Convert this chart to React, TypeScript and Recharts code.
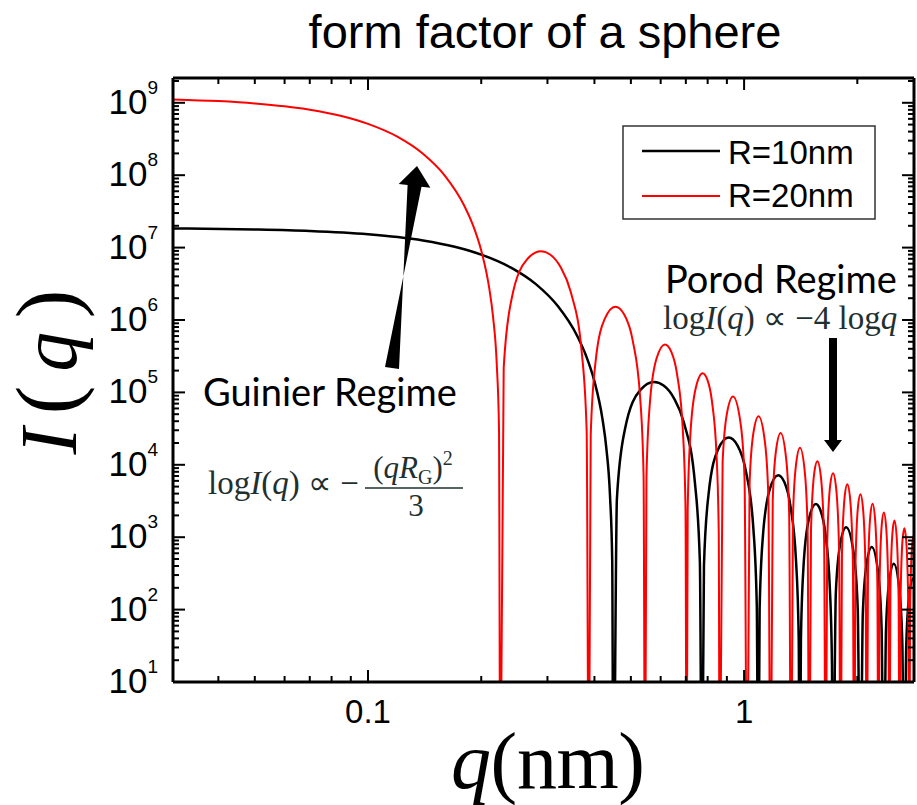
import React from "react"
import { LineChart, Line, XAxis, YAxis } from "recharts"

// sphere form factor (q in nm^-1, I in a.u.)
const blackQ = [
  0.03, 0.05, 0.07, 0.1, 0.12, 0.14, 0.17, 0.2, 0.24, 0.28, 0.32, 0.36, 0.38, 0.4, 0.42, 0.43, 0.44, 0.446, 0.4493,
  0.459, 0.4817, 0.5301, 0.5763, 0.6109, 0.65, 0.6917, 0.7402, 0.7628, 0.7725,
  0.7821, 0.8043, 0.852, 0.9095, 0.96, 1.0109, 1.0586, 1.0809, 1.0904,
  1.0999, 1.122, 1.1695, 1.2323, 1.2801, 1.3276, 1.375, 1.3971, 1.4066,
  1.4161, 1.4382, 1.4855, 1.5515, 1.5959, 1.6432, 1.6905, 1.7126, 1.7221,
  1.7536, 1.8008, 1.8689, 1.9584, 2.0056, 2.0371,
  2.0686, 2.1158, 2.1854, 2.2733, 2.3205, 2.352,
  2.3834, 2.4306, 2.5013, 2.588, 2.6351, 2.6666,
  2.6981, 2.7453, 2.8168, 2.9025, 2.9497, 2.9812,
]
const blackI = [
  1.841e7, 1.783e7, 1.699e7, 1.531e7, 1.397e7, 1.252e7, 1.025e7, 8.0e6, 5.28e6, 3.1e6, 1.545e6, 6.02e5, 3.21e5, 1.422e5, 4.34e4, 1.74e4, 3.73e3, 478, 0.1,
  3.4e3, 3.02e4, 1.084e5, 1.393e5, 1.243e5, 8.41e4, 3.82e4, 5.58e3, 458, 0.1,
  403, 3.88e3, 1.615e4, 2.378e4, 1.856e4, 8.19e3, 1.303e3, 111, 0.1,
  103, 1.025e3, 4.55e3, 7.17e3, 5.72e3, 2.73e3, 453, 39.4, 0.1,
  37.3, 379, 1.74e3, 2.88e3, 2.36e3, 1.162e3, 198, 17.4, 0.1,
  170, 802, 1.371e3, 574, 99.6, 0.1,
  87.9, 421, 735, 316, 55.5, 0.1,
  49.9, 242, 431, 188, 33.4, 0.1,
  30.4, 148.5, 268, 119, 21.3, 0.1,
]

const redQ = [
  0.03, 0.04, 0.05, 0.06, 0.07, 0.085, 0.1, 0.12, 0.14, 0.16, 0.18, 0.19, 0.2, 0.21, 0.215, 0.22, 0.223, 0.2247,
  0.2295, 0.2408, 0.2651, 0.2882, 0.3055, 0.325, 0.3459, 0.3701, 0.3814, 0.3863,
  0.391, 0.4022, 0.426, 0.4548, 0.48, 0.5055, 0.5293, 0.5404, 0.5452,
  0.55, 0.561, 0.5847, 0.6162, 0.6401, 0.6638, 0.6875, 0.6986, 0.7033,
  0.708, 0.7191, 0.7428, 0.7758, 0.798, 0.8216, 0.8453, 0.8563, 0.861,
  0.8768, 0.9004, 0.9345, 0.9792, 1.0028, 1.0186,
  1.0343, 1.0579, 1.0927, 1.1366, 1.1602, 1.176,
  1.1917, 1.2153, 1.2507, 1.294, 1.3176, 1.3333,
  1.349, 1.3726, 1.4084, 1.4513, 1.4749, 1.4906,
  1.5063, 1.5378, 1.566, 1.6007, 1.6321, 1.6478,
  1.6636, 1.695, 1.7235, 1.7579, 1.7893, 1.805,
  1.8208, 1.8522, 1.881, 1.9151, 1.9465, 1.9622,
  1.978, 2.0094, 2.0384, 2.0723, 2.1037, 2.1194,
  2.1351, 2.1666, 2.1957, 2.2294, 2.2609, 2.2766,
  2.2923, 2.3237, 2.353, 2.3866, 2.418, 2.4337,
  2.4494, 2.4809, 2.5103, 2.5437, 2.5752, 2.5909,
  2.6066, 2.638, 2.6676, 2.7009, 2.7323, 2.748,
  2.7637, 2.7951, 2.8248, 2.858, 2.8894, 2.9051,
]
const redI = [
  1.116e9, 1.055e9, 9.8e8, 8.94e8, 8.01e8, 6.56e8, 5.12e8, 3.38e8, 1.98e8, 9.89e7, 3.85e7, 2.06e7, 9.1e6, 2.77e6, 1.11e6, 2.39e5, 3.06e4, 0.1,
  2.17e5, 1.934e6, 6.94e6, 8.92e6, 7.96e6, 5.38e6, 2.446e6, 3.57e5, 2.93e4, 0.1,
  2.58e4, 2.48e5, 1.034e6, 1.522e6, 1.188e6, 5.24e5, 8.34e4, 7.1e3, 0.1,
  6.59e3, 6.56e4, 2.91e5, 4.59e5, 3.66e5, 1.748e5, 2.9e4, 2.52e3, 0.1,
  2.39e3, 2.42e4, 1.114e5, 1.841e5, 1.512e5, 7.43e4, 1.267e4, 1.12e3, 0.1,
  1.091e4, 5.13e4, 8.77e4, 3.67e4, 6.37e3, 0.1,
  5.63e3, 2.69e4, 4.7e4, 2.02e4, 3.55e3, 0.1,
  3.19e3, 1.547e4, 2.76e4, 1.204e4, 2.14e3, 0.1,
  1.94e3, 9.5e3, 1.716e4, 7.61e3, 1.362e3, 0.1,
  1.262e3, 7.97e3, 1.122e4, 6.78e3, 916, 0.1,
  841, 5.35e3, 7.64e3, 4.62e3, 629, 0.1,
  586, 3.75e3, 5.39e3, 3.28e3, 449, 0.1,
  421, 2.71e3, 3.91e3, 2.4e3, 329, 0.1,
  310, 2.01e3, 2.9e3, 1.788e3, 247, 0.1,
  234, 1.515e3, 2.2e3, 1.362e3, 189, 0.1,
  179, 1.167e3, 1.7e3, 1.056e3, 147, 0.1,
  140, 912, 1.333e3, 830, 116, 0.1,
  110, 723, 1.06e3, 662, 92, 0.1,
]

const seriesNames = ["R=10nm", "R=20nm"]
const seriesColors = ["#000000", "#ff0000"]

const xMajor = [0.1, 1]
const xMinor = [0.04, 0.05, 0.06, 0.07, 0.08, 0.09, 0.2, 0.3, 0.4, 0.5, 0.6, 0.7, 0.8, 0.9, 2]
const yDecades = [1, 2, 3, 4, 5, 6, 7, 8, 9]
const yMinorSteps = [2, 3, 4, 5, 6, 7, 8, 9]

const xDomain = [0.0303, 2.83]
const yDomain = [10, 2.2e9]

const zip = (qs: number[], is: number[]) => qs.map((q, i) => ({ q, I: is[i] }))
const blackData = zip(blackQ, blackI)
const redData = zip(redQ, redI)

const xTicks = [...xMinor, ...xMajor].sort((a, b) => a - b)
const yTicks = yDecades.flatMap((d) =>
  d < 9 ? [10 ** d, ...yMinorSteps.map((m) => m * 10 ** d)] : [10 ** d, 2 * 10 ** d]
)

const isDecade = (v: number) => Math.abs(Math.log10(v) - Math.round(Math.log10(v))) < 1e-6

const sans = "Liberation Sans, Arial, sans-serif"
const serif = "Liberation Serif, Times New Roman, serif"
const calib = "Lato, Open Sans, sans-serif"
const mathColor = "#1f3030"

function BottomTick(props: any) {
  const { x, y, payload } = props
  const v = payload.value
  const major = xMajor.includes(v)
  return (
    <g>
      <line x1={x} x2={x} y1={y} y2={y - (major ? 12 : 6)} stroke="#000" strokeWidth={2} />
      {major && (
        <text x={x} y={y + 41} textAnchor="middle" fontFamily={sans} fontSize={33} fill="#000">
          {String(v)}
        </text>
      )}
    </g>
  )
}

function TopTick(props: any) {
  const { x, y, payload } = props
  const major = xMajor.includes(payload.value)
  return <line x1={x} x2={x} y1={y} y2={y + (major ? 12 : 6)} stroke="#000" strokeWidth={2} />
}

function LeftTick(props: any) {
  const { x, y, payload } = props
  const v = payload.value
  const major = isDecade(v)
  const exp = Math.round(Math.log10(v))
  return (
    <g>
      <line x1={x} x2={x + (major ? 12 : 6)} y1={y} y2={y} stroke="#000" strokeWidth={2} />
      {major && (
        <text x={x - 15} y={y + 11} textAnchor="end" fontFamily={sans} fontSize={35} fill="#000">
          10
          <tspan dy={-20} fontSize={19}>
            {exp}
          </tspan>
        </text>
      )}
    </g>
  )
}

function RightTick(props: any) {
  const { x, y, payload } = props
  const major = isDecade(payload.value)
  return <line x1={x} x2={x - (major ? 12 : 6)} y1={y} y2={y} stroke="#000" strokeWidth={2} />
}

function Overlay() {
  return (
    <svg width={917} height={805} style={{ position: "absolute", left: 0, top: 0, pointerEvents: "none" }}>
      <text x={545} y={48} textAnchor="middle" fontFamily={sans} fontSize={47} fill="#000">
        form factor of a sphere
      </text>

      {/* axis titles */}
      <text
        x={548}
        y={788}
        textAnchor="middle"
        fontFamily={serif}
        fontSize={80}
        textLength={194}
        lengthAdjust="spacing"
        fill="#000"
      >
        <tspan fontStyle="italic">q</tspan>(nm)
      </text>
      <text
        transform="translate(76,372) rotate(-90)"
        textAnchor="middle"
        fontFamily={serif}
        fontSize={80}
        textLength={165}
        lengthAdjust="spacing"
        fill="#000"
      >
        <tspan fontStyle="italic">I</tspan>
        <tspan fontSize={86}>(</tspan>
        <tspan fontStyle="italic">q</tspan>
        <tspan fontSize={86}>)</tspan>
      </text>

      {/* legend */}
      <rect x={623} y={126} width={252} height={93} fill="#fff" stroke="#333" strokeWidth={1.5} />
      <line x1={642} x2={720} y1={151} y2={151} stroke={seriesColors[0]} strokeWidth={2.5} />
      <line x1={642} x2={720} y1={196} y2={196} stroke={seriesColors[1]} strokeWidth={2} />
      <text x={728} y={164} fontFamily={sans} fontSize={33} fill="#000">
        {seriesNames[0]}
      </text>
      <text x={728} y={207} fontFamily={sans} fontSize={33} fill="#000">
        {seriesNames[1]}
      </text>

      {/* Guinier annotation */}
      <polygon
        points="385,367 399,369 407.6,185 398.7,183.9 417,166 430.4,187.8 421.5,186.7"
        fill="#000"
      />
      <text x={203} y={406} fontFamily={calib} fontSize={38} fill="#000">
        Guinier Regime
      </text>
      <text x={208} y={494} fontFamily={serif} fontSize={33} fill={mathColor}>
        log<tspan fontStyle="italic">I</tspan>(<tspan fontStyle="italic">q</tspan>) ∝ −
      </text>
      <text x={413} y={478} textAnchor="middle" fontFamily={serif} fontSize={31} fill={mathColor}>
        (<tspan fontStyle="italic">qR</tspan>
        <tspan fontSize={20} dy={6}>G</tspan>
        <tspan dy={-6}>)</tspan>
        <tspan fontSize={20} dy={-13}>2</tspan>
      </text>
      <line x1={365} x2={463} y1={488} y2={488} stroke={mathColor} strokeWidth={1.5} />
      <text x={416} y={516} textAnchor="middle" fontFamily={serif} fontSize={31} fill={mathColor}>
        3
      </text>

      {/* Porod annotation */}
      <text x={665} y={293} fontFamily={calib} fontSize={38} fill="#000">
        Porod Regime
      </text>
      <text x={663} y={329} fontFamily={serif} fontSize={33} fill={mathColor}>
        log<tspan fontStyle="italic">I</tspan>(<tspan fontStyle="italic">q</tspan>) ∝ −4 log
        <tspan fontStyle="italic">q</tspan>
      </text>
      <polygon points="829,338 837,338 837,440 842,440 833,452 824,440 829,440" fill="#000" />
    </svg>
  )
}

export default function App() {
  return (
    <div style={{ position: "absolute", left: 0, top: 0, width: 917, height: 805, background: "#fff" }}>
      <LineChart width={917} height={805} margin={{ top: 77, right: 2, bottom: 122, left: 172 }}>
        <XAxis
          xAxisId="b"
          dataKey="q"
          type="number"
          scale="log"
          domain={xDomain}
          allowDataOverflow
          ticks={xTicks}
          interval={0}
          tick={<BottomTick />}
          tickLine={false}
          tickSize={0}
          tickMargin={0}
          height={1}
          axisLine={{ stroke: "#000", strokeWidth: 3 }}
        />
        <XAxis
          xAxisId="t"
          orientation="top"
          dataKey="q"
          type="number"
          scale="log"
          domain={xDomain}
          allowDataOverflow
          ticks={xTicks}
          interval={0}
          tick={<TopTick />}
          tickLine={false}
          tickSize={0}
          tickMargin={0}
          height={1}
          axisLine={{ stroke: "#000", strokeWidth: 3 }}
        />
        <YAxis
          yAxisId="l"
          type="number"
          scale="log"
          domain={yDomain}
          allowDataOverflow
          ticks={yTicks}
          interval={0}
          tick={<LeftTick />}
          tickLine={false}
          tickSize={0}
          tickMargin={0}
          width={1}
          axisLine={{ stroke: "#000", strokeWidth: 3 }}
        />
        <YAxis
          yAxisId="r"
          orientation="right"
          type="number"
          scale="log"
          domain={yDomain}
          allowDataOverflow
          ticks={yTicks}
          interval={0}
          tick={<RightTick />}
          tickLine={false}
          tickSize={0}
          tickMargin={0}
          width={1}
          axisLine={{ stroke: "#000", strokeWidth: 3 }}
        />
        <Line
          xAxisId="b"
          yAxisId="l"
          data={blackData}
          dataKey="I"
          name={seriesNames[0]}
          type="monotone"
          stroke={seriesColors[0]}
          strokeWidth={2.5}
          dot={false}
          isAnimationActive={false}
        />
        <Line
          xAxisId="b"
          yAxisId="l"
          data={redData}
          dataKey="I"
          name={seriesNames[1]}
          type="monotone"
          stroke={seriesColors[1]}
          strokeWidth={2}
          dot={false}
          isAnimationActive={false}
        />
      </LineChart>
      <Overlay />
    </div>
  )
}
